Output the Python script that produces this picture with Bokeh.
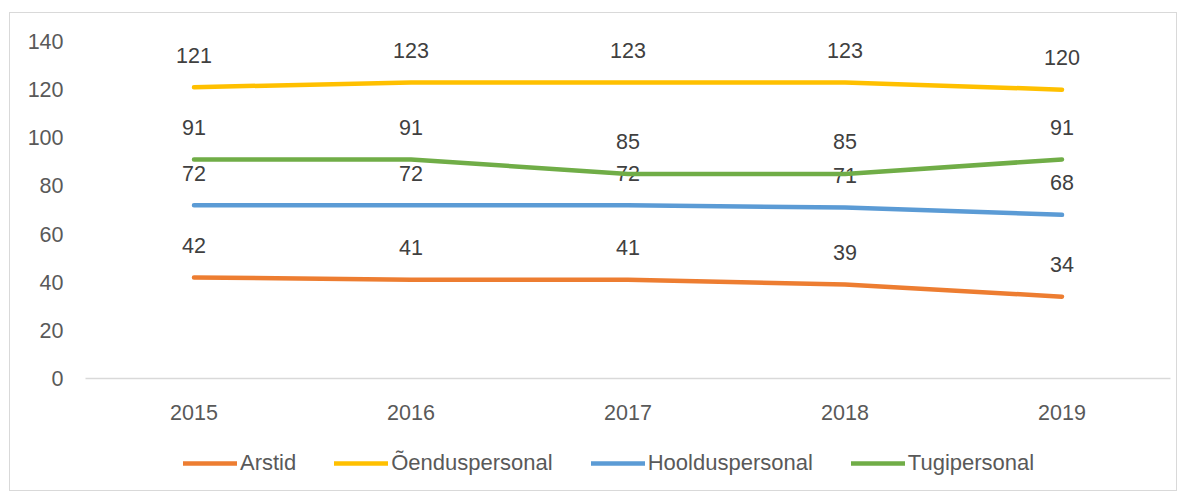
from bokeh.plotting import figure
from bokeh.layouts import column
from bokeh.models import FactorRange, Range1d, Legend, LegendItem, ColumnDataSource, FixedTicker
from bokeh.core.properties import value
from bokeh.embed import file_html
from bokeh.resources import INLINE

years = ["2015", "2016", "2017", "2018", "2019"]
arstid = [42, 41, 41, 39, 34]
oendus = [121, 123, 123, 123, 120]
hooldus = [72, 72, 72, 71, 68]
tugi = [91, 91, 85, 85, 91]
series_names = ["Arstid", "Õenduspersonal", "Hoolduspersonal", "Tugipersonal"]
series_values = [arstid, oendus, hooldus, tugi]
colors = ["#ED7D31", "#FFC000", "#5B9BD5", "#70AD47"]
y_ticks = [0, 20, 40, 60, 80, 100, 120, 140]

FONT = "Liberation Sans"
FS = "21.5px"

p = figure(width=1166, height=417, x_range=FactorRange(*years, range_padding=0),
           y_range=Range1d(0, 140), output_backend="svg", toolbar_location=None,
           min_border_left=75, min_border_right=6, min_border_top=28, min_border_bottom=52)
p.outline_line_color = None
p.grid.visible = False

p.yaxis.ticker = FixedTicker(ticks=y_ticks)
p.yaxis.axis_line_color = None
p.yaxis.major_tick_line_color = None
p.yaxis.minor_tick_line_color = None
p.yaxis.major_label_standoff = 16
p.yaxis.major_label_text_font = FONT
p.yaxis.major_label_text_font_size = FS
p.yaxis.major_label_text_color = "#595959"

p.xaxis.axis_line_color = "#d9d9d9"
p.xaxis.axis_line_width = 1.5
p.xaxis.major_tick_line_color = None
p.xaxis.minor_tick_line_color = None
p.xaxis.major_label_standoff = 20
p.xaxis.major_label_text_font = FONT
p.xaxis.major_label_text_font_size = FS
p.xaxis.major_label_text_color = "#595959"

# legend-only strip below the chart (its line data lies outside its ranges)
q = figure(width=1166, height=60, x_range=Range1d(0, 1), y_range=Range1d(0, 1),
           x_axis_type=None, y_axis_type=None, output_backend="svg", toolbar_location=None,
           min_border=0)
q.outline_line_color = None
q.grid.visible = False

items = []
for name, vals, c in zip(series_names, series_values, colors):
    src = ColumnDataSource(dict(x=years, y=vals, t=[str(v) for v in vals]))
    p.line("x", "y", source=src, line_color=c, line_width=4.5, line_cap="round", line_join="round")
    p.text("x", "y", text="t", source=src, y_offset=-32, text_align="center", text_baseline="middle",
           text_font=value(FONT), text_font_size=FS, text_color="#404040")
    r = q.line(x=[5, 6], y=[5, 5], line_color=c, line_width=4.5, line_cap="round")
    items.append(LegendItem(label=name, renderers=[r]))

legend = Legend(items=items, orientation="horizontal", location=(98, 14),
                glyph_width=54, glyph_height=20, label_standoff=3, spacing=38,
                label_text_font=FONT, label_text_font_size="22px", label_text_color="#595959",
                border_line_color=None, background_fill_alpha=0, padding=6, margin=0)
q.add_layout(legend, "center")

layout = column(p, q, spacing=0)
layout.styles = {"border": "1px solid #d9d9d9", "margin-left": "9px", "margin-top": "12px"}

open("out.html", "w").write(file_html(layout, INLINE))
